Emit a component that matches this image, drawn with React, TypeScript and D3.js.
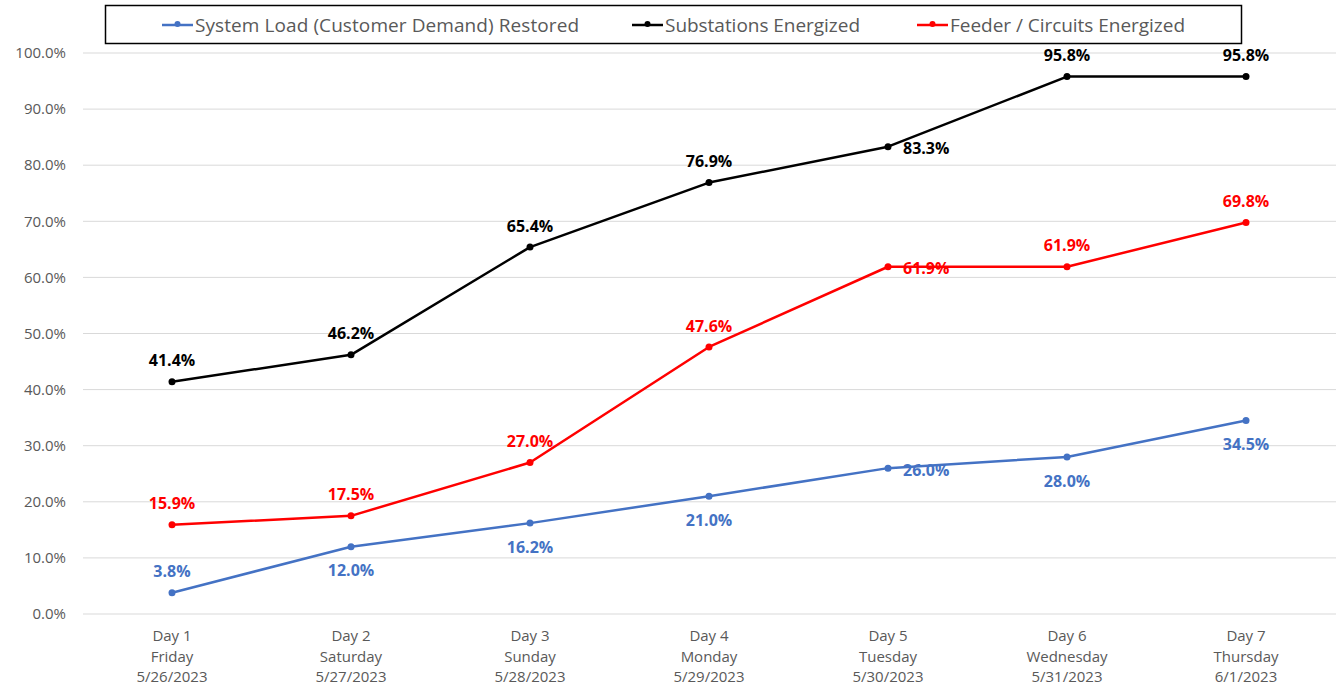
import * as d3 from "d3";

const days = ["Day 1", "Day 2", "Day 3", "Day 4", "Day 5", "Day 6", "Day 7"];
const weekdays = ["Friday", "Saturday", "Sunday", "Monday", "Tuesday", "Wednesday", "Thursday"];
const dates = ["5/26/2023", "5/27/2023", "5/28/2023", "5/29/2023", "5/30/2023", "5/31/2023", "6/1/2023"];

const systemLoad = [3.8, 12.0, 16.2, 21.0, 26.0, 28.0, 34.5];
const substations = [41.4, 46.2, 65.4, 76.9, 83.3, 95.8, 95.8];
const feeders = [15.9, 17.5, 27.0, 47.6, 61.9, 61.9, 69.8];

const yTicks = [0, 10, 20, 30, 40, 50, 60, 70, 80, 90, 100];

// where each data label sits relative to its point
const loadLabelPos = ["above", "below", "below", "below", "right", "below", "below"];
const subLabelPos = ["above", "above", "above", "above", "right", "above", "above"];
const feederLabelPos = ["above", "above", "above", "above", "right", "above", "above"];

const W = 1336;
const H = 687;
const FONT = "'Open Sans', sans-serif";

interface Series {
  name: string;
  color: string;
  values: number[];
  pos: string[];
}

const series: Series[] = [
  { name: "System Load (Customer Demand) Restored", color: "#4472C4", values: systemLoad, pos: loadLabelPos },
  { name: "Substations Energized", color: "#000000", values: substations, pos: subLabelPos },
  { name: "Feeder / Circuits Energized", color: "#FF0000", values: feeders, pos: feederLabelPos },
];

// legend layout: marker start x and text width
const legendX = [162, 632, 917];
const legendTextW = [384, 195, 235];

export default function App() {
  const x = d3.scaleBand<string>().domain(days).range([82.5, 1335.5]);
  const y = d3.scaleLinear().domain([0, 100]).range([614, 53]);
  const cx = (d: string) => (x(d) ?? 0) + x.bandwidth() / 2;

  const line = d3
    .line<number>()
    .x((_, i) => cx(days[i]))
    .y((v) => y(v));

  return (
    <svg width={W} height={H} style={{ position: "absolute", left: 0, top: 0, background: "#fff" }}>
      {/* gridlines */}
      {yTicks.map((t) => (
        <g key={t}>
          <line x1={83} x2={1336} y1={y(t)} y2={y(t)} stroke="#d9d9d9" strokeWidth={1} />
          <text x={66} y={y(t)} dy="0.35em" textAnchor="end" fontFamily={FONT} fontSize={15} fill="#595959">
            {t.toFixed(1)}%
          </text>
        </g>
      ))}

      {/* x labels */}
      {days.map((d, i) => (
        <text key={d} x={cx(d)} textAnchor="middle" fontFamily={FONT} fontSize={15} fill="#595959">
          <tspan x={cx(d)} y={641}>{d}</tspan>
          <tspan x={cx(d)} y={662}>{weekdays[i]}</tspan>
          <tspan x={cx(d)} y={682}>{dates[i]}</tspan>
        </text>
      ))}

      {/* lines */}
      {series.map((s) => (
        <g key={s.name}>
          <path d={line(s.values) ?? ""} fill="none" stroke={s.color} strokeWidth={2.5} strokeLinejoin="round" />
          {s.values.map((v, i) => (
            <circle key={i} cx={cx(days[i])} cy={y(v)} r={3.5} fill={s.color} />
          ))}
        </g>
      ))}

      {/* data labels */}
      {series.map((s) => (
        <g key={s.name + "-labels"}>
          {s.values.map((v, i) => {
            const px = cx(days[i]);
            const py = y(v);
            const p = s.pos[i];
            const lx = p === "right" ? px + 15 : px;
            const ly = p === "above" ? py - 21 : p === "below" ? py + 24 : py + 2;
            return (
              <text
                key={i}
                x={lx}
                y={ly}
                dy="0.35em"
                textAnchor={p === "right" ? "start" : "middle"}
                fontFamily={FONT}
                fontSize={16}
                fontWeight="bold"
                fill={s.color}
              >
                {v.toFixed(1)}%
              </text>
            );
          })}
        </g>
      ))}

      {/* legend */}
      <rect x={105.5} y={5.5} width={1136} height={38} fill="#fff" stroke="#000" strokeWidth={1.5} />
      {series.map((s, i) => (
        <g key={s.name + "-legend"}>
          <line x1={legendX[i]} x2={legendX[i] + 31} y1={25} y2={25} stroke={s.color} strokeWidth={2.5} />
          <circle cx={legendX[i] + 15.5} cy={24} r={3} fill={s.color} />
          <text
            x={legendX[i] + 33}
            y={25}
            dy="0.35em"
            fontFamily={FONT}
            fontSize={19}
            fill="#595959"
            textLength={legendTextW[i]}
          >
            {s.name}
          </text>
        </g>
      ))}
    </svg>
  );
}
